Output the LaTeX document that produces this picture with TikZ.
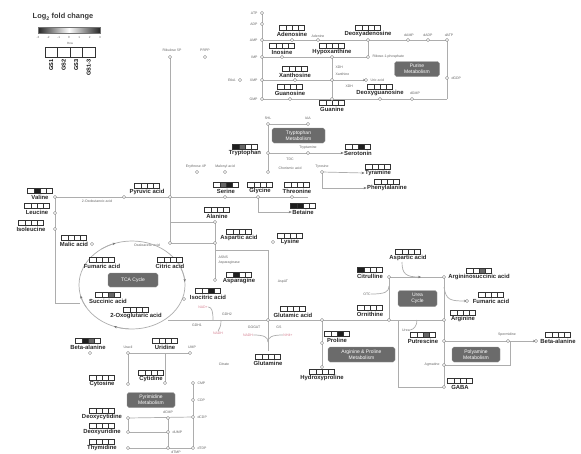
\documentclass[tikz,border=0pt]{standalone}
\usepackage{fontspec}
\setmainfont{Liberation Sans}
\usetikzlibrary{arrows.meta,calc}
\definecolor{pinkl}{RGB}{214,128,146}
\colorlet{hw}{white}
\colorlet{hl}{black!28}
\colorlet{hm}{black!60}
\colorlet{hd}{black!88}
\newcommand\hm[5]{%
  \foreach \hc [count=\hi] in {#2,#3,#4,#5}
  {\draw[hmb,fill=\hc] ($(#1.north)+(6.2*\hi-18.6,-0.6)$) rectangle ++(6.2,-5);}}
\newcommand\J[3]{\coordinate (#1) at (#2,#3);}
\begin{document}
\begin{tikzpicture}[x=1pt,y=-1pt,
 met/.style={font=\bfseries\fontsize{5.9}{6.4}\selectfont, inner sep=0.4pt, text=black!85},
 sm/.style={font=\fontsize{3.5}{3.9}\selectfont, inner sep=0.3pt, text=black!60},
 pk/.style={font=\fontsize{3.5}{3.9}\selectfont, inner sep=0.3pt, text=pinkl},
 proc/.style={rounded corners=1.8pt, fill=black!58, draw=black!40, text=white, font=\fontsize{5}{5.6}\selectfont, align=center, inner sep=0.8pt},
 ln/.style={draw=black!32, line width=0.7pt},
 arr/.style={-{Stealth[length=3pt,width=2.4pt,color=black!55]}},
 jn/.style={circle, draw=black!50, fill=white, inner sep=0pt, minimum size=3.2pt, line width=0.45pt},
 hmb/.style={draw=black!80, line width=0.45pt}]
\useasboundingbox (0,0) rectangle (581,453);
\fill[white] (0,0) rectangle (581,453);

% ---------------- legend
\node[font=\bfseries\fontsize{7.4}{8}\selectfont,text=black!78] (lgt) at (63,17) {Log\textsubscript{2} fold change};
\node[inner sep=0pt,minimum width=62pt,minimum height=6pt,left color=black!85,right color=black!85,middle color=white,draw=black!55,line width=0.4pt] (bar) at (69,30) {};
\foreach \t [count=\i from 0] in {-3,-2,-1,0,1,2,3}
  \node[sm,font=\fontsize{3}{3.4}\selectfont] (tk\i) at (38+10.33*\i,37) {\t};
\node[sm,font=\fontsize{3}{3.4}\selectfont] (rowl) at (70,43) {Row};
\foreach \i in {0,1,2,3} \draw[hmb,line width=0.8pt] (45+12.5*\i,47) rectangle ++(12.5,10);
\foreach \t [count=\i from 0] in {GS1,GS2,GS3,GS1-3}
  \node[rotate=90,anchor=east,font=\bfseries\fontsize{5.6}{6}\selectfont,inner sep=0.5pt] (gs\i) at (51.25+12.5*\i,59) {\t};

% ---------------- purine
\J{jATP}{262}{13}\J{jADP}{262}{24}\J{jAMP}{262}{40}\J{jIMP}{262}{57}\J{jXMP}{262}{80}\J{jGMP}{262}{99}
\foreach \n/\t in {jATP/ATP,jADP/ADP,jAMP/AMP,jIMP/IMP,jXMP/XMP,jGMP/GMP}
  \node[sm,anchor=east] (l\n) at ($(\n)+(-4,0)$) {\t};
\draw[ln] (jATP) -- (jGMP);
\J{jAdo}{292}{40}\J{jAde}{318}{40}\J{jdAdo}{368}{40}\J{jdAMP}{408}{40}\J{jdADP}{428}{40}\J{jdATP}{447}{40}
\draw[ln] (jAMP) -- (jdATP);
\node[met] (ado) at (292,34) {Adenosine}; \hm{ado}{hw}{hw}{hw}{hw}
\node[sm] (ade) at (318,36) {Adenine};
\node[met] (dado) at (368,34) {Deoxyadenosine}; \hm{dado}{hw}{hw}{hw}{hw}
\node[sm] (ldAMP) at (409,35) {dAMP};
\node[sm] (ldADP) at (428,35) {dADP};
\node[sm] (ldATP) at (449,35) {dATP};
\J{jIno}{282}{57}\J{jHyx}{332}{57}\J{jR1P}{368}{57}
\draw[ln] (jIMP) -- (jR1P);
\draw[ln] (jdAdo) -- (jR1P);
\node[met] (ino) at (282,52) {Inosine}; \hm{ino}{hw}{hw}{hw}{hw}
\node[met] (hyx) at (332,52) {Hypoxanthine}; \hm{hyx}{hw}{hw}{hw}{hw}
\node[sm,anchor=west] (r1p) at (372,57) {Ribose-1-phosphate};
\J{jXao}{295}{80}\J{jXan}{332}{80}\J{jUric}{366}{80}
\draw[ln] (jXMP) -- (jXan);
\draw[ln,arr] (jXan) -- (jUric);
\J{jGuo}{290}{99}\J{jGua}{332}{99}\J{jdGuo}{380}{99}\J{jdGMP}{412}{99}\J{jdGR}{447}{99}\J{jdGDP}{447}{78}
\draw[ln] (jHyx) -- (jGua);
\node[met] (xao) at (295,75) {Xanthosine}; \hm{xao}{hw}{hw}{hw}{hw}
\node[sm,anchor=west] (xdh1) at (335,67) {XDH};
\node[sm,anchor=west] (xan) at (335,74) {Xanthine};
\node[sm,anchor=west] (xdh2) at (345,86) {XDH};
\node[sm,anchor=west] (uric) at (370,80) {Uric acid};
\J{jEtk}{240}{80}
\node[sm,anchor=east] (etk) at (236,80) {EtkA};
\draw[ln] (jGMP) -- (jdGR);
\draw[ln] (jdATP) -- (jdGR);
\node[met] (guo) at (290,93) {Guanosine}; \hm{guo}{hw}{hw}{hw}{hw}
\node[met] (gua) at (332,109) {Guanine}; \hm{gua}{hw}{hw}{hw}{hw}
\node[met] (dguo) at (380,93) {Deoxyguanosine}; \hm{dguo}{hw}{hw}{hw}{hw}
\node[sm] (ldGMP) at (415,93) {dGMP};
\node[sm,anchor=west] (ldGDP) at (451,78) {dGDP};
\node[proc,minimum width=45pt,minimum height=15pt] (pur) at (417,69) {Purine\\Metabolism};
\J{jRib}{170}{57}\J{jPRPP}{205}{57}
\node[sm] (rib) at (172,50) {Ribulose 5P};
\node[sm] (prpp) at (205,50) {PRPP};

% ---------------- tryptophan
\J{j5HL}{268}{124}\J{jIAA}{308}{124}\J{jTrp}{268}{153}\J{jTrm}{308}{153}\J{jCho}{268}{172}
\draw[ln] (jIAA) -- (j5HL) -- (jCho);
\node[sm] (l5hl) at (268,118) {5HL};
\node[sm] (liaa) at (308,118) {IAA};
\node[proc,minimum width=53pt,minimum height=15pt] (trpm) at (298.5,135.5) {Tryptophan\\Metabolism};
\node[met] (trp) at (245,153) {Tryptophan}; \hm{trp}{hd}{hm}{hw}{hw}
\node[met] (srt) at (358,153) {Serotonin}; \hm{srt}{hw}{hw}{hd}{hw}
\draw[ln,arr] (jTrp) -- (srt.west);
\node[sm] (trm) at (308,148) {Tryptamine};
\node[sm] (tdc) at (290,159) {TDC};
\J{jE4P}{197}{172}\J{jMal}{225}{172}\J{jTyr}{322}{172}
\coordinate (cTyC) at (322,188);
\node[sm] (e4p) at (196,167) {Erythrose 4P};
\node[sm] (mal) at (225,167) {Malonyl acid};
\node[sm] (cho) at (290,168) {Chorismic acid};
\node[sm] (tyr) at (322,167) {Tyrosine};
\node[met] (tym) at (378,173) {Tyramine}; \hm{tym}{hw}{hw}{hw}{hw}
\node[met] (phe) at (387,188) {Phenylalanine}; \hm{phe}{hw}{hw}{hw}{hw}
\draw[ln,arr] (jTyr) -- (tym.west);
\draw[ln] (jTyr) -- (cTyC);
\draw[ln,arr] (cTyC) -- (phe.west);

% ---------------- pyruvate row
\J{jPyr}{170}{197}\J{jSer}{225}{197}\J{jGly}{258}{197}\J{jThr}{292}{197}
\coordinate (cPyE) at (308,197);
\coordinate (cBet) at (258,212);
\draw[ln] (jPyr) -- (cPyE);
\node[met] (pyr) at (147,192) {Pyruvic acid}; \hm{pyr}{hw}{hw}{hw}{hw}
\node[met] (ser) at (226,191) {Serine}; \hm{ser}{hw}{hm}{hd}{hw}
\node[met] (gly) at (260,191) {Glycine}; \hm{gly}{hw}{hw}{hw}{hw}
\node[met] (thr) at (297,191) {Threonine}; \hm{thr}{hw}{hw}{hw}{hw}
\node[met] (bet) at (303,212) {Betaine}; \hm{bet}{hd}{hd}{hw}{hw}
\draw[ln] (jGly) -- (cBet);
\draw[ln,arr] (cBet) -- (bet.west);

% ---------------- alanine / aspartate
\coordinate (cAlaL) at (170,222);
\J{jAla}{215}{222}\J{jOxa}{170}{243}\J{jAsp}{215}{243}\J{jAsn}{215}{280}
\coordinate (cAsnT) at (215,250);
\coordinate (cAspR) at (268,250);
\J{jGlu}{268}{320}
\draw[ln] (jRib) -- (jOxa) -- (jAsp) -- (jAsn);
\draw[ln] (cAlaL) -- (jAla) -- (jAsp);
\draw[ln] (cAsnT) -- (cAspR) -- (jGlu);
\node[met] (ala) at (217,216) {Alanine}; \hm{ala}{hw}{hw}{hw}{hw}
\node[met] (asp) at (239,238) {Aspartic acid}; \hm{asp}{hw}{hw}{hw}{hw}
\J{jLys}{273}{242}
\node[met] (lys) at (290,242) {Lysine}; \hm{lys}{hw}{hw}{hw}{hw}
\node[sm,anchor=west] (asns) at (218,257) {ASNS};
\node[sm,anchor=west] (aspg) at (218,263) {Asparaginase};
\node[met] (asn) at (239,281) {Asparagine}; \hm{asn}{hw}{hd}{hw}{hw}
\node[sm] (aspat) at (283,282) {AspAT};

% ---------------- left branch
\J{jVal}{55}{197}\J{jOxb}{124}{197}\J{jLeu}{55}{213}\J{jIle}{55}{229}
\coordinate (cTL) at (55,303);
\coordinate (cTR) at (80,303);
\draw[ln] (jVal) -- (jPyr);
\draw[ln] (jVal) -- (cTL) -- (cTR);
\node[met] (val) at (40,197) {Valine}; \hm{val}{hw}{hd}{hw}{hw}
\node[met] (leu) at (37,212) {Leucine}; \hm{leu}{hw}{hw}{hw}{hw}
\node[met] (ile) at (31,229) {Isoleucine}; \hm{ile}{hw}{hw}{hw}{hw}
\node[sm] (oxb) at (97,201) {2-Oxobutanoic acid};
\node[met] (malic) at (74,244) {Malic acid}; \hm{malic}{hw}{hw}{hw}{hw}
\J{jMalic}{92}{244}
\node[sm] (oxa) at (147,245) {Oxaloacetic acid};

% ---------------- TCA
\coordinate (tcc) at (132,285);
\draw[ln] (tcc) ellipse[x radius=53,y radius=44];
\draw[ln,arr] ($(tcc)+(235:53 and 44)$) arc[start angle=235,end angle=252,x radius=53,y radius=44];
\draw[ln,arr] ($(tcc)+(-22:53 and 44)$) arc[start angle=-22,end angle=-4,x radius=53,y radius=44];
\draw[ln,arr] ($(tcc)+(93:53 and 44)$) arc[start angle=93,end angle=110,x radius=53,y radius=44];
\draw[ln,arr] ($(tcc)+(150:53 and 44)$) arc[start angle=150,end angle=166,x radius=53,y radius=44];
\node[proc,minimum width=50pt,minimum height=14pt] (tca) at (133,280) {TCA Cycle};
\node[met] (fum) at (102,266) {Fumaric acid}; \hm{fum}{hw}{hw}{hw}{hw}
\node[met] (cit) at (170,266) {Citric acid}; \hm{cit}{hw}{hw}{hw}{hw}
\node[met] (suc) at (108,301) {Succinic acid}; \hm{suc}{hw}{hw}{hm}{hw}
\node[met] (oxg) at (136,316) {2-Oxoglutaric acid}; \hm{oxg}{hw}{hw}{hw}{hw}
\node[met] (iso) at (208,297) {Isocitric acid}; \hm{iso}{hw}{hw}{hd}{hw}
\J{jIso}{184}{299}

% ---------------- glutamate axis
\coordinate (cOxg) at (168,320);
\J{jPro}{322}{320}\J{jOrn}{389}{320}
\coordinate (cOrnR) at (398,320);
\draw[ln] (cOxg) -- (cOrnR);
\node[met] (glu) at (293,315) {Glutamic acid}; \hm{glu}{hw}{hw}{hw}{hw}
\node[sm] (gdh2) at (227,314) {GDH2};
\node[sm] (gdh1) at (197,325) {GDH1};
\node[pk] (pk1) at (203,307) {NAD+};
\node[pk] (pk2) at (218,333) {NADH};
\coordinate (cG1) at (213,320);
\coordinate (cG2) at (221,320);
\draw[ln] (pk1.east) .. controls (212,307) and (213,312) .. (cG1);
\draw[ln] (cG2) .. controls (221,326) and (220,328) .. (pk2.north);
\node[sm] (gogat) at (254,327) {GOGAT};
\node[sm] (gs) at (279,327) {GS};
\node[pk] (pk3) at (248,335) {NADH};
\node[pk] (pk4) at (288,335) {NH4+};
\node[met] (gln) at (268,363) {Glutamine}; \hm{gln}{hw}{hw}{hw}{hw}
\coordinate (cGlnT) at (268,342);
\coordinate (cGlnB) at (268,351);
\draw[ln] (jGlu) -- (cGlnB);
\draw[ln] (pk3.east) .. controls (264,335) and (268,337) .. (cGlnT);
\draw[ln] (pk4.west) .. controls (272,335) and (268,337) .. (cGlnT);
\node[sm] (citr) at (224,364) {Citrate};
\J{jPro2}{322}{343}\J{jHyp}{322}{367}
\draw[ln] (jPro) -- (jHyp);
\node[met] (pro) at (337,340) {Proline}; \hm{pro}{hw}{hw}{hd}{hw}
\node[met] (hyp) at (322,378) {Hydroxyproline}; \hm{hyp}{hw}{hw}{hw}{hw}
\node[proc,minimum width=67pt,minimum height=15pt] (argpro) at (361.5,354.5) {Arginine \& Proline\\Metabolism};
\J{jGABA}{444}{387}
\coordinate (cRB) at (398,387);
\draw[ln] (cOrnR) -- (cRB) -- (jGABA);

% ---------------- urea cycle
\J{jCit}{389}{277}\J{jAsa}{444}{277}\J{jArg}{444}{320}
\draw[ln] (jCit) -- (jAsa) -- (jArg) -- (jOrn) -- (jCit);
\node[met] (asp2) at (408,258) {Aspartic acid}; \hm{asp2}{hw}{hw}{hw}{hw}
\coordinate (cAspS) at (402,262);
\coordinate (cAspE) at (421,277);
\draw[ln,arr] (cAspS) .. controls (402,274) and (406,277) .. (cAspE);
\node[met] (cit2) at (370,276) {Citrulline}; \hm{cit2}{hd}{hw}{hw}{hw}
\node[met] (asa) at (479,277) {Argininosuccinic acid}; \hm{asa}{hw}{hw}{hm}{hw}
\node[proc,minimum width=39pt,minimum height=16pt] (urea) at (417.5,298.5) {Urea\\Cycle};
\J{jFum}{467}{301}
\coordinate (cFs) at (444,287);
\draw[ln,arr] (cFs) .. controls (446,300) and (450,301) .. (jFum);
\node[met] (fum2) at (491,301) {Fumaric acid}; \hm{fum2}{hw}{hw}{hw}{hw}
\node[met] (arg) at (463,319) {Arginine}; \hm{arg}{hw}{hw}{hw}{hw}
\node[met] (orn) at (370,314) {Ornithine}; \hm{orn}{hw}{hw}{hw}{hw}
\node[sm] (otc) at (367,294) {OTC};
\coordinate (cOtc) at (389,286);
\draw[ln] (cOtc) .. controls (389,292) and (385,294) .. (otc.east);
\node[sm] (ureal) at (406,330) {Urea};
\coordinate (cUr) at (417,320);
\draw[ln] (cUr) .. controls (417,326) and (414,329) .. (ureal.east);

% ---------------- polyamine
\J{jPut}{444}{341}\J{jSpd}{508}{341}\J{jBal}{536}{341}\J{jAgm}{444}{365}
\coordinate (cPaB) at (510,365);
\coordinate (cPaT) at (510,341);
\draw[ln] (jArg) -- (jGABA);
\draw[ln] (jPut) -- (jSpd);
\draw[ln,arr] (jSpd) -- (jBal);
\draw[ln] (jAgm) -- (cPaB) -- (cPaT);
\node[met] (put) at (423,341) {Putrescine}; \hm{put}{hw}{hw}{hm}{hw}
\node[sm] (spd) at (507,335) {Spermidine};
\node[met] (bal2) at (558,341) {Beta-alanine}; \hm{bal2}{hw}{hw}{hw}{hw}
\node[proc,minimum width=48pt,minimum height=15pt] (poly) at (476,354.5) {Polyamine\\Metabolism};
\node[sm,anchor=east] (agm) at (440,365) {Agmatine};
\node[met] (gaba) at (460,387) {GABA}; \hm{gaba}{hw}{hw}{hw}{hw}

% ---------------- pyrimidine
\J{jBal1}{90}{353}\J{jUra}{128}{353}\J{jUMP}{190}{353}
\coordinate (cUrd) at (165,353);
\draw[ln] (jUra) -- (jUMP);
\node[met] (bal1) at (88,347) {Beta-alanine}; \hm{bal1}{hw}{hd}{hm}{hw}
\node[sm] (ura) at (128,347) {Uracil};
\node[met] (urd) at (165,347) {Uridine}; \hm{urd}{hw}{hw}{hw}{hw}
\node[sm] (ump) at (192,347) {UMP};
\J{jCyt}{128}{384}\J{jCyd}{165}{383}
\draw[ln] (jUra) -- (jCyt);
\draw[ln] (cUrd) -- (jCyd);
\node[met] (cyt) at (102,384) {Cytosine}; \hm{cyt}{hw}{hw}{hw}{hw}
\node[met] (cyd) at (151,379) {Cytidine}; \hm{cyd}{hw}{hw}{hw}{hw}
\J{jCMP}{193}{383}\J{jCDP}{193}{400}\J{jdCDP}{193}{417}\J{jdTD}{193}{448}
\draw[ln] (jCMP) -- (jdTD);
\node[sm,anchor=west] (lcmp) at (197,383) {CMP};
\node[sm,anchor=west] (lcdp) at (197,400) {CDP};
\node[sm,anchor=west] (ldcdp) at (197,417) {dCDP};
\node[sm,anchor=west] (ldtd) at (197,448) {dTDP};
\node[proc,minimum width=48pt,minimum height=15pt] (pyrm) at (151,400) {Pyrimidine\\Metabolism};
\J{jdCyd}{128}{418}\J{jdCMP}{168}{418}\J{jdUrd}{128}{432}\J{jdUMP}{168}{432}\J{jThd}{128}{448}\J{jdTMP}{168}{448}
\draw[ln] (jdCyd) -- (jdCDP);
\draw[ln] (jdUrd) -- (jdUMP);
\draw[ln] (jThd) -- (jdTD);
\draw[ln] (jdCyd) -- (jdUrd);
\draw[ln] (jdCMP) -- (jdTMP);
\node[met] (dcyd) at (102,417) {Deoxycytidine}; \hm{dcyd}{hw}{hw}{hw}{hw}
\node[met] (durd) at (102,432) {Deoxyuridine}; \hm{durd}{hw}{hw}{hw}{hw}
\node[met] (thd) at (102,448) {Thymidine}; \hm{thd}{hw}{hw}{hw}{hw}
\node[sm] (ldcmp) at (168,412) {dCMP};
\node[sm,anchor=west] (ldump) at (172,432) {dUMP};
\node[sm] (ldtmp) at (176,452) {dTMP};

% ---------------- junction markers
\foreach \n in {jATP,jADP,jAMP,jIMP,jXMP,jGMP,jAdo,jAde,jdAdo,jdAMP,jdADP,jdATP,jIno,jHyx,jR1P,jXao,jXan,jUric,jEtk,jGuo,jGua,jdGuo,jdGMP,jdGDP,jRib,jPRPP,j5HL,jIAA,jTrp,jTrm,jE4P,jMal,jCho,jTyr,jPyr,jSer,jGly,jThr,jAla,jOxa,jAsp,jLys,jAsn,jVal,jOxb,jLeu,jIle,jMalic,jIso,jGlu,jPro,jPro2,jHyp,jOrn,jCit,jAsa,jArg,jFum,jPut,jSpd,jBal,jAgm,jGABA,jBal1,jUra,jUMP,jCyt,jCyd,jCMP,jCDP,jdCDP,jdTD,jdCyd,jdCMP,jdUrd,jdUMP,jThd,jdTMP}
  \node[jn] (m\n) at (\n) {};
\end{tikzpicture}
\end{document}
